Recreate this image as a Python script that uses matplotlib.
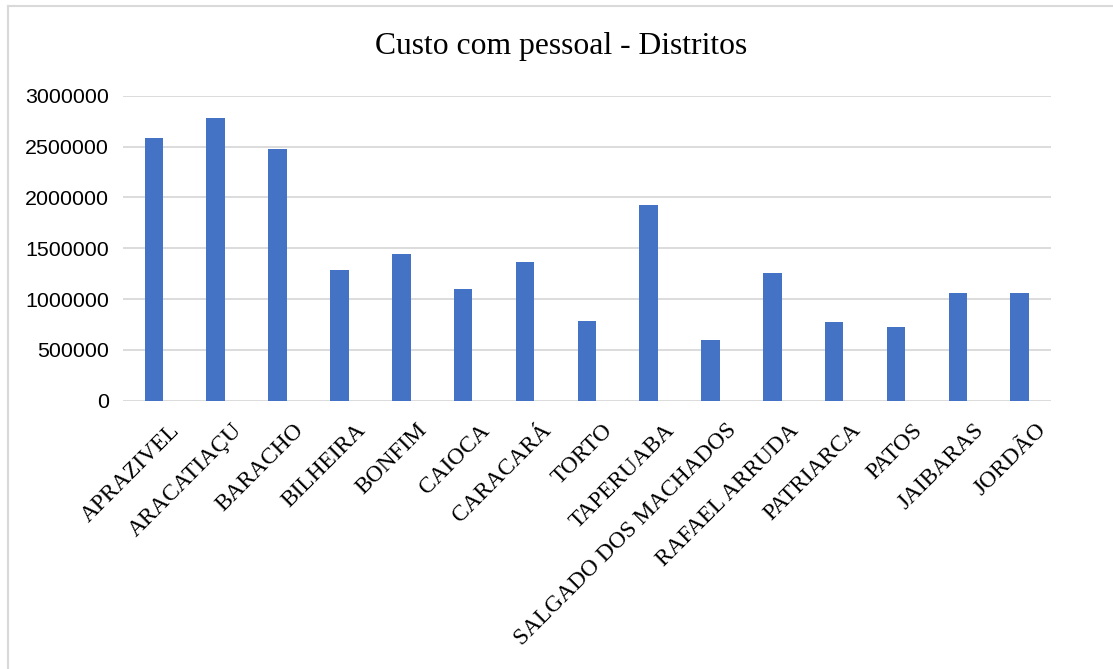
import numpy as np
import matplotlib.pyplot as plt
from matplotlib.lines import Line2D
from matplotlib.transforms import ScaledTranslation

distritos = ['APRAZIVEL', 'ARACATIAÇU', 'BARACHO', 'BILHEIRA', 'BONFIM',
             'CAIOCA', 'CARACARÁ', 'TORTO', 'TAPERUABA', 'SALGADO DOS MACHADOS',
             'RAFAEL ARRUDA', 'PATRIARCA', 'PATOS', 'JAIBARAS', 'JORDÃO']
custo = [2587000, 2784000, 2479000, 1283000, 1446000,
         1099000, 1364000, 787000, 1922000, 594000,
         1256000, 777000, 725000, 1059000, 1059000]
y_ticks = [0, 500000, 1000000, 1500000, 2000000, 2500000, 3000000]

GRID = '#d9d9d9'
BAR = '#4472c4'

fig = plt.figure(figsize=(11.13, 6.69), dpi=100)
ax = fig.add_axes([0.1105, 0.401, 0.8335, 0.456])

x = np.arange(len(distritos))
ax.bar(x, custo, width=0.3, color=BAR, zorder=3)

ax.set_xlim(-0.5, len(distritos) - 0.5)
ax.set_ylim(0, 3000000)
ax.set_yticks(y_ticks)
ax.set_yticklabels([str(v) for v in y_ticks], family='Liberation Sans',
                   fontsize=15.4, color='#000000')
ax.set_xticks(x)
ax.set_xticklabels(distritos, family='Liberation Serif', fontsize=16.8,
                   rotation=45, ha='right', va='center', rotation_mode='anchor')
ax.tick_params(axis='y', length=0, pad=10)
ax.tick_params(axis='x', length=0, pad=14)

# nudge the slanted labels to the right and down
shift = ScaledTranslation(0.23, -0.07, fig.dpi_scale_trans)
for lbl in ax.get_xticklabels():
    lbl.set_transform(lbl.get_transform() + shift)

ax.grid(axis='y', color=GRID, linewidth=1.3, zorder=0)
for s in ax.spines.values():
    s.set_visible(False)

fig.text(0.504, 0.931, 'Custo com pessoal - Distritos', family='Liberation Serif',
         fontsize=22.8, ha='center', va='center')

# light frame around the chart (only top and left edges fall inside the image)
fig.add_artist(Line2D([0.0072, 1.0], [0.991, 0.991], transform=fig.transFigure,
                      color=GRID, linewidth=1.5))
fig.add_artist(Line2D([0.0072, 0.0072], [0.0, 0.991], transform=fig.transFigure,
                      color=GRID, linewidth=1.5))

fig.savefig('out.png', dpi=100)
